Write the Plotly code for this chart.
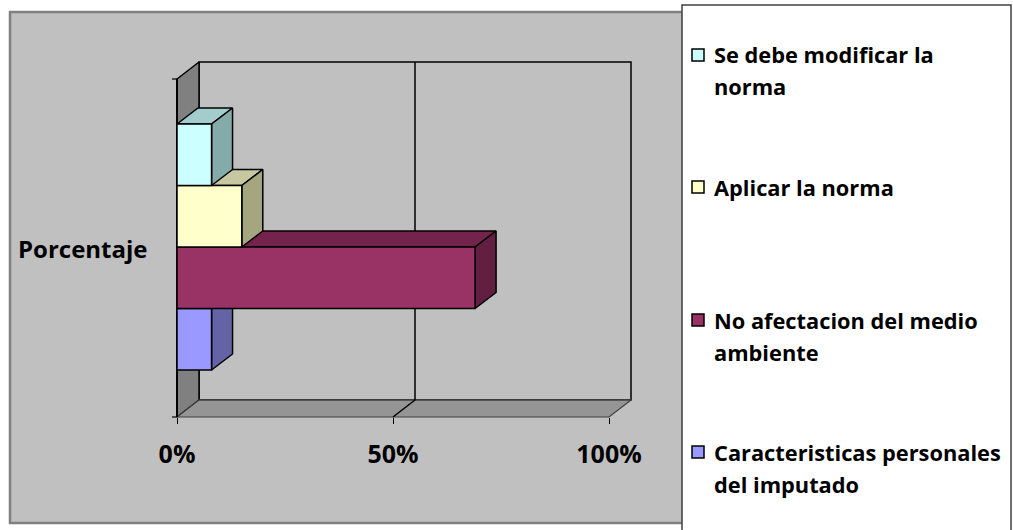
import plotly.graph_objects as go

# ---- data (bottom to top in the chart) ----
categories = ["Caracteristicas personales del imputado",
              "No afectacion del medio ambiente",
              "Aplicar la norma",
              "Se debe modificar la norma"]
values = [8, 69, 15, 8]
legend_lines = [["Se debe modificar la", "norma"],
                ["Aplicar la norma"],
                ["No afectacion del medio", "ambiente"],
                ["Caracteristicas personales", "del imputado"]]
tick_vals = [0, 50, 100]
tick_text = ["0%", "50%", "100%"]
axis_title = "Porcentaje"

front_colors = ["#9999FF", "#993366", "#FFFFCC", "#CCFFFF"]
side_colors = ["#6363A5", "#631F42", "#A5A580", "#84AAAA"]
top_colors = ["#7A7ACC", "#74234D", "#C8C8A0", "#A3CCCC"]

W, H = 1013, 530
FONT = "Open Sans"

# coordinate system: x in percent, y in category units (one bar = 1 unit)
PX_PER_PCT = 4.32
PX_PER_UNIT = 61.5
X0_PX, Y0_PX = 177, 370
x_range = [-X0_PX / PX_PER_PCT, (W - X0_PX) / PX_PER_PCT]
y_range = [-(H - Y0_PX) / PX_PER_UNIT, Y0_PX / PX_PER_UNIT]

yf = -(417 - Y0_PX) / PX_PER_UNIT      # floor (front)
yt = (Y0_PX - 79) / PX_PER_UNIT        # top of walls (front)
dx = 22 / PX_PER_PCT                   # depth offset
dy = 17 / PX_PER_UNIT
bdx = 21 / PX_PER_PCT
bdy = 16 / PX_PER_UNIT
xmax = 100

fig = go.Figure()


def poly(xs, ys, fill, line_color="black", lw=1.5):
    fig.add_trace(go.Scatter(x=xs + [xs[0]], y=ys + [ys[0]], mode="lines",
                             fill="toself", fillcolor=fill,
                             line=dict(color=line_color, width=lw),
                             hoverinfo="skip", showlegend=False))


def seg(xs, ys, color="black", lw=1.5):
    fig.add_trace(go.Scatter(x=xs, y=ys, mode="lines",
                             line=dict(color=color, width=lw),
                             hoverinfo="skip", showlegend=False))


# walls
poly([dx, xmax + dx, xmax + dx, dx], [yf + dy, yf + dy, yt + dy, yt + dy], "#C0C0C0")
poly([0, 0, dx, dx], [yf, yt, yt + dy, yf + dy], "#808080")
poly([0, xmax, xmax + dx, dx], [yf, yf, yf + dy, yf + dy], "#959595", "#404040", 1.2)
seg([dx, xmax + dx], [yf + dy, yf + dy], "#404040", 1.2)
# gridline at 50%
seg([50, 50 + dx, 50 + dx], [yf, yf + dy, yt + dy], "black", 1.5)
# left wall edge (axis line) and y ticks
seg([0, 0], [yf, yt], "black", 2)
seg([-5 / PX_PER_PCT, 0], [yt, yt], "black", 1.2)
seg([-5 / PX_PER_PCT, 0], [yf, yf], "black", 1.2)

# bars, bottom to top
for i, v in enumerate(values):
    y0, y1 = i, i + 1
    poly([0, v, v + bdx, bdx], [y1, y1, y1 + bdy, y1 + bdy], top_colors[i])
    poly([v, v + bdx, v + bdx, v], [y0, y0 + bdy, y1 + bdy, y1], side_colors[i])
    poly([0, v, v, 0], [y0, y0, y1, y1], front_colors[i])

# category label
fig.add_annotation(x=-6.3, y=len(values) / 2 - 0.03, xref="x", yref="y",
                   text="<b>" + axis_title + "</b>", showarrow=False,
                   xanchor="right", yanchor="middle",
                   font=dict(family=FONT, size=24, color="black"))

# background panels
shapes = [
    dict(type="rect", xref="paper", yref="paper", layer="below",
         x0=10 / W, x1=683 / W, y0=1 - 523 / H, y1=1 - 12 / H,
         fillcolor="#C0C0C0", line=dict(color="#808080", width=2.5)),
    dict(type="rect", xref="paper", yref="paper", layer="above",
         x0=682 / W, x1=1011 / W, y0=-0.05, y1=1 - 5 / H,
         fillcolor="white", line=dict(color="#404040", width=1.5)),
]

# legend (manual)
legend_rows = [55, 187, 320, 452]
for k, lines in enumerate(legend_lines):
    ci = len(values) - 1 - k
    yc = legend_rows[k]
    shapes.append(dict(type="rect", xref="paper", yref="paper", layer="above",
                       x0=692 / W, x1=704 / W, y0=1 - (yc + 6) / H, y1=1 - (yc - 6) / H,
                       fillcolor=front_colors[ci], line=dict(color="black", width=1.5)))
    for j, ln in enumerate(lines):
        fig.add_annotation(x=712 / W, y=1 - (yc + j * 32) / H, xref="paper", yref="paper",
                           text="<b>" + ln + "</b>", showarrow=False,
                           xanchor="left", yanchor="middle",
                           font=dict(family=FONT, size=21.8, color="black"))

fig.update_layout(
    width=W, height=H, margin=dict(l=0, r=0, t=0, b=0),
    paper_bgcolor="white", plot_bgcolor="rgba(0,0,0,0)",
    shapes=shapes, showlegend=False,
    xaxis=dict(range=x_range, domain=[0, 1], anchor="free", position=1 - 417 / H,
               showgrid=False, zeroline=False, showline=False,
               tickvals=tick_vals, ticktext=["<b>" + t + "</b>" for t in tick_text],
               ticks="outside", ticklen=6, tickcolor="black", tickwidth=1.2,
               ticklabelstandoff=9,
               tickfont=dict(family=FONT, size=25, color="black"), fixedrange=True),
    yaxis=dict(range=y_range, domain=[0, 1], visible=False, fixedrange=True),
)

fig.write_html("out.html")
